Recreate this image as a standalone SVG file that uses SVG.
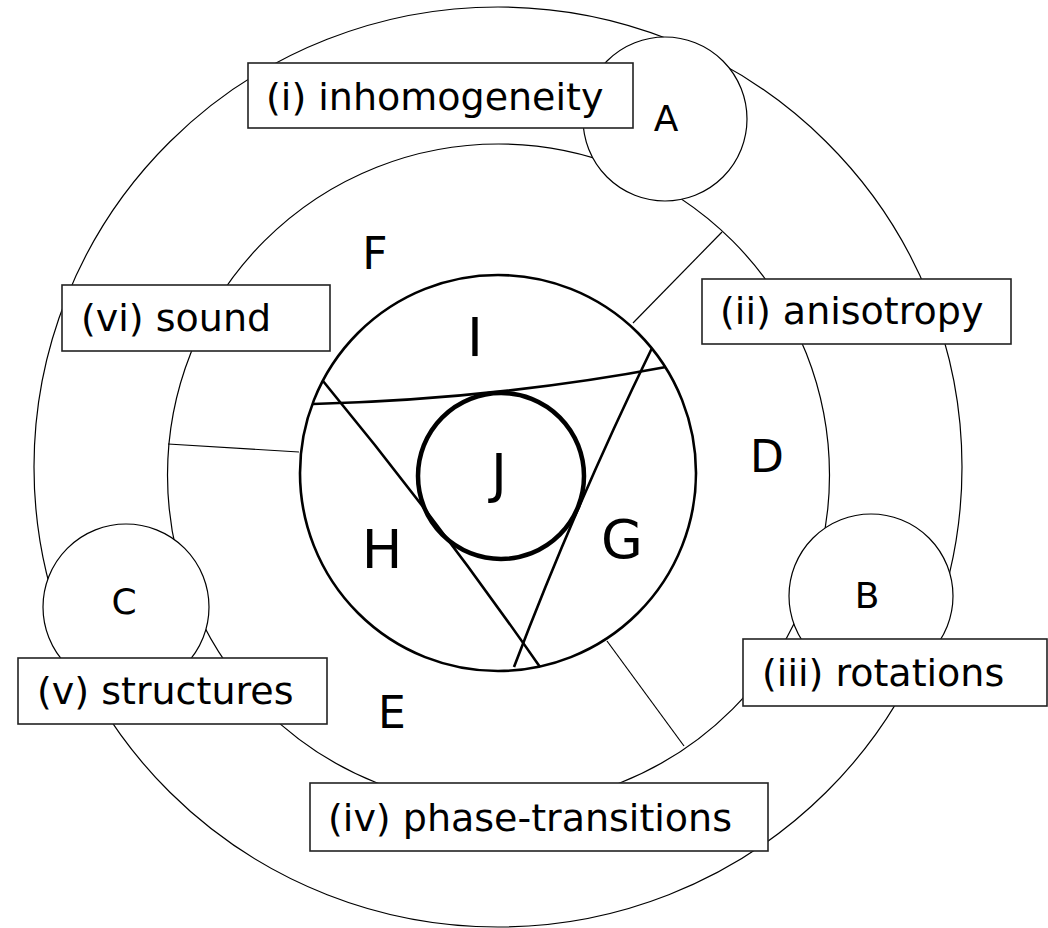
<svg xmlns="http://www.w3.org/2000/svg" width="1048" height="928" viewBox="0 0 1048 928">
  <style>
    .thin { fill: none; stroke: #000; stroke-width: 1.2; }
    .thick { fill: none; stroke: #000; stroke-width: 2.6; }
    .bub { fill: #fff; stroke: #000; stroke-width: 1.2; }
    .box { fill: #fff; stroke: #222; stroke-width: 1.6; }
    .lbl { font-family: "DejaVu Sans", Verdana, sans-serif; font-size: 38px; fill: #000; }
    .big { font-family: "DejaVu Sans", Verdana, sans-serif; font-size: 44px; fill: #000; text-anchor: middle; }
    .huge { font-family: "DejaVu Sans", Verdana, sans-serif; font-size: 54px; fill: #000; text-anchor: middle; }
    .sm { font-family: "DejaVu Sans", Verdana, sans-serif; font-size: 36px; fill: #000; text-anchor: middle; }
  </style>
  <rect width="1048" height="928" fill="#fff"/>

  <g id="rings">
    <ellipse id="outer" class="thin" cx="498" cy="467" rx="464" ry="460"/>
    <circle id="middle" class="thin" cx="498.5" cy="475" r="331"/>
  </g>

  <g id="connectors">
    <line class="thin" x1="633" y1="323" x2="722" y2="232"/>
    <line class="thin" x1="168" y1="444" x2="299" y2="452"/>
    <line class="thin" x1="607" y1="641" x2="684" y2="746"/>
  </g>

  <g id="core">
    <circle id="inner" class="thick" cx="498" cy="473" r="198"/>
    <path class="thick" d="M313,404 Q496,399 666,367"/>
    <path class="thick" d="M323,381 Q437,519 540,667"/>
    <path class="thick" d="M652,348 Q576,504 514,667"/>
    <circle id="J" fill="none" stroke="#000" stroke-width="4.5" cx="501" cy="476" r="83"/>
  </g>

  <g id="node-A">
    <circle class="bub" cx="665" cy="119" r="82"/>
    <text class="sm" x="666" y="131">A</text>
  </g>
  <g id="node-B">
    <circle class="bub" cx="871" cy="596" r="82"/>
    <text class="sm" x="867" y="608">B</text>
  </g>
  <g id="node-C">
    <circle class="bub" cx="126" cy="607" r="83"/>
    <text class="sm" x="124" y="614">C</text>
  </g>

  <g id="label-i">
    <rect class="box" x="248" y="63" width="385" height="65"/>
    <text class="lbl" x="266" y="110">(i) inhomogeneity</text>
  </g>
  <g id="label-ii">
    <rect class="box" x="702" y="279" width="309" height="65"/>
    <text class="lbl" x="720" y="324">(ii) anisotropy</text>
  </g>
  <g id="label-iii">
    <rect class="box" x="743" y="639" width="304" height="67"/>
    <text class="lbl" x="762" y="686">(iii) rotations</text>
  </g>
  <g id="label-iv">
    <rect class="box" x="310" y="783" width="458" height="68"/>
    <text class="lbl" x="328" y="831">(iv) phase-transitions</text>
  </g>
  <g id="label-v">
    <rect class="box" x="18" y="658" width="309" height="66"/>
    <text class="lbl" x="37" y="704">(v) structures</text>
  </g>
  <g id="label-vi">
    <rect class="box" x="62" y="285" width="268" height="66"/>
    <text class="lbl" x="81" y="331">(vi) sound</text>
  </g>

  <g id="regions">
    <text class="big" x="375" y="269">F</text>
    <text class="big" x="767" y="472">D</text>
    <text class="big" x="392" y="728">E</text>
    <text class="huge" x="475" y="356">I</text>
    <text class="huge" x="499" y="492">J</text>
    <text class="huge" x="382" y="568">H</text>
    <text class="huge" x="622" y="558">G</text>
  </g>
</svg>
